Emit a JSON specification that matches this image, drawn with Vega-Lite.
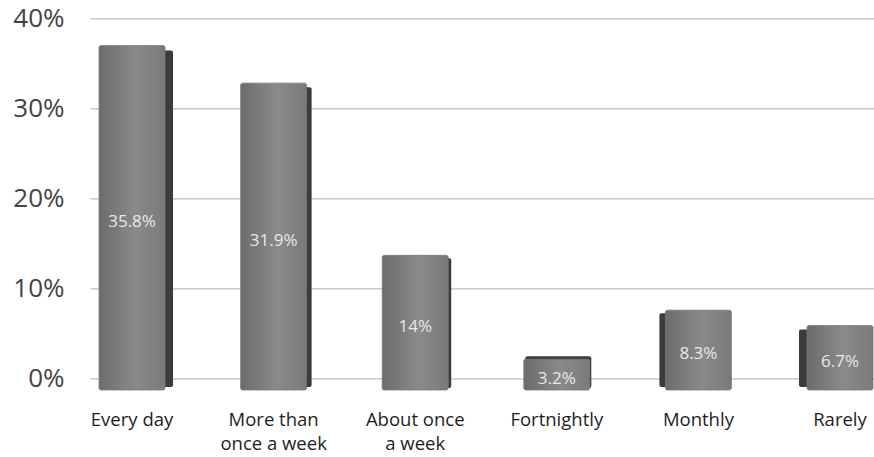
{
  "$schema": "https://vega.github.io/schema/vega-lite/v6.json",
  "width": 784,
  "height": 360,
  "autosize": "none",
  "padding": {"left": 90, "top": 18.3, "right": 0, "bottom": 78.7},
  "background": "white",
  "config": {"view": {"stroke": null}, "font": "Open Sans"},
  "data": {
    "values": [
      {"frequency": "Every day", "share": 0.358},
      {"frequency": "More than once a week", "share": 0.319},
      {"frequency": "About once a week", "share": 0.14},
      {"frequency": "Fortnightly", "share": 0.032},
      {"frequency": "Monthly", "share": 0.083},
      {"frequency": "Rarely", "share": 0.067}
    ]
  },
  "encoding": {
    "x": {
      "field": "frequency",
      "type": "nominal",
      "sort": null,
      "scale": {"paddingInner": 0.534, "paddingOuter": 0.0355, "align": 0.9},
      "axis": {
        "title": null,
        "labelAngle": 0,
        "domain": false,
        "ticks": false,
        "grid": false,
        "labelPadding": 32,
        "labelFontSize": 18.5,
        "labelFontWeight": 500,
        "labelColor": "#1e1e1e",
        "labelLineHeight": 24,
        "labelExpr": "datum.value == 'More than once a week' ? ['More than', 'once a week'] : datum.value == 'About once a week' ? ['About once', 'a week'] : datum.value"
      }
    }
  },
  "layer": [
    {
      "mark": {"type": "point", "opacity": 0},
      "encoding": {
        "y": {
          "field": "share",
          "type": "quantitative",
          "scale": {"domain": [0, 0.4], "nice": false},
          "axis": {
            "title": null,
            "values": [0, 0.1, 0.2, 0.3, 0.4],
            "format": ".0%",
            "domain": false,
            "ticks": false,
            "labelPadding": 26,
            "labelFontSize": 26,
            "labelColor": "#444444",
            "gridColor": "#bdbdbd",
            "gridWidth": 1.3
          }
        }
      }
    },
    {
      "transform": [{"filter": {"field": "frequency", "equal": "Every day"}}],
      "mark": {"type": "bar", "color": "#3b3b3b", "xOffset": 8, "yOffset": 5, "y2Offset": -3, "cornerRadius": 2},
      "encoding": {
        "y": {"field": "share", "type": "quantitative", "scale": {"domain": [0.01216, 0.3864], "nice": false, "zero": false}, "axis": null},
        "y2": {"datum": 0}
      }
    },
    {
      "transform": [{"filter": {"field": "frequency", "equal": "More than once a week"}}],
      "mark": {"type": "bar", "color": "#3b3b3b", "xOffset": 5, "yOffset": 4, "y2Offset": -3, "cornerRadius": 2},
      "encoding": {
        "y": {"field": "share", "type": "quantitative", "scale": {"domain": [0.01216, 0.3864], "nice": false, "zero": false}, "axis": null},
        "y2": {"datum": 0}
      }
    },
    {
      "transform": [{"filter": {"field": "frequency", "equal": "About once a week"}}],
      "mark": {"type": "bar", "color": "#3b3b3b", "xOffset": 3, "yOffset": 3, "y2Offset": -2, "cornerRadius": 2},
      "encoding": {
        "y": {"field": "share", "type": "quantitative", "scale": {"domain": [0.01216, 0.3864], "nice": false, "zero": false}, "axis": null},
        "y2": {"datum": 0}
      }
    },
    {
      "transform": [{"filter": {"field": "frequency", "equal": "Fortnightly"}}],
      "mark": {"type": "bar", "color": "#3b3b3b", "xOffset": 1.5, "yOffset": -3, "y2Offset": -2, "cornerRadius": 2},
      "encoding": {
        "y": {"field": "share", "type": "quantitative", "scale": {"domain": [0.01216, 0.3864], "nice": false, "zero": false}, "axis": null},
        "y2": {"datum": 0}
      }
    },
    {
      "transform": [{"filter": {"field": "frequency", "equal": "Monthly"}}],
      "mark": {"type": "bar", "color": "#3b3b3b", "xOffset": -6, "yOffset": 3, "y2Offset": -3, "cornerRadius": 2},
      "encoding": {
        "y": {"field": "share", "type": "quantitative", "scale": {"domain": [0.01216, 0.3864], "nice": false, "zero": false}, "axis": null},
        "y2": {"datum": 0}
      }
    },
    {
      "transform": [{"filter": {"field": "frequency", "equal": "Rarely"}}],
      "mark": {"type": "bar", "color": "#3b3b3b", "xOffset": -8, "yOffset": 4, "y2Offset": -3, "cornerRadius": 2},
      "encoding": {
        "y": {"field": "share", "type": "quantitative", "scale": {"domain": [0.01216, 0.3864], "nice": false, "zero": false}, "axis": null},
        "y2": {"datum": 0}
      }
    },
    {
      "mark": {
        "type": "bar",
        "cornerRadius": 2,
        "stroke": "#777777",
        "strokeWidth": 0.8,
        "color": {
          "gradient": "linear",
          "x1": 0, "y1": 0, "x2": 1, "y2": 0,
          "stops": [
            {"offset": 0, "color": "#6c6c6c"},
            {"offset": 0.55, "color": "#8a8a8a"},
            {"offset": 1, "color": "#7a7a7a"}
          ]
        }
      },
      "encoding": {
        "y": {"field": "share", "type": "quantitative", "scale": {"domain": [0.01216, 0.3864], "nice": false, "zero": false}, "axis": null},
        "y2": {"datum": 0}
      }
    },
    {
      "mark": {"type": "text", "color": "#e8e8e8", "fontSize": 17, "fontWeight": 500, "baseline": "middle", "yOffset": 4},
      "encoding": {
        "y": {"field": "share", "type": "quantitative", "scale": {"domain": [0.02432, 0.7728], "nice": false, "zero": false}, "axis": null},
        "text": {"field": "share", "type": "quantitative", "format": ".1~%"}
      }
    }
  ],
  "resolve": {"scale": {"y": "independent"}}
}
